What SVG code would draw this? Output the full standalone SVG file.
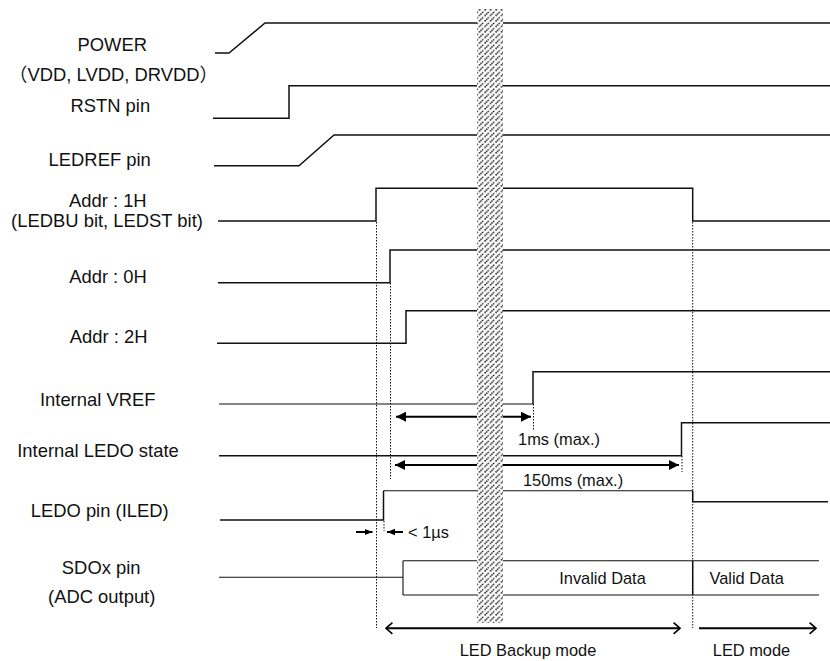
<svg xmlns="http://www.w3.org/2000/svg" width="830" height="661" viewBox="0 0 830 661">
<style>
.bg{fill:#fff}
.sig{fill:none;stroke:#111;stroke-width:1.5}
.thin{fill:none;stroke:#111;stroke-width:1.1}
.dot{fill:none;stroke:#111;stroke-width:1;stroke-dasharray:1.5 1.5}
.dim{fill:none;stroke:#000;stroke-width:2}
.lbl{font-family:"Liberation Sans",Arial,"Noto Sans CJK JP",sans-serif;font-size:18.4px;fill:#111;text-anchor:middle}
.ann{font-family:"Liberation Sans",Arial,sans-serif;font-size:16.4px;fill:#111;text-anchor:middle}
</style>
<defs>
<pattern id="hatch" patternUnits="userSpaceOnUse" width="5.5" height="5.5">
<rect width="5.5" height="5.5" fill="#fff"/>
<path d="M-1,6.5 L6.5,-1" stroke="#000" stroke-width="1.4" stroke-dasharray="1.4 0.8"/>
</pattern>
<marker id="fa" viewBox="0 0 10 10" refX="10" refY="5" markerWidth="5" markerHeight="5" orient="auto-start-reverse" markerUnits="strokeWidth">
<path d="M0,0 L10,5 L0,10 Z" fill="#000"/>
</marker>
<marker id="fs" viewBox="0 0 10 10" refX="10" refY="5" markerWidth="8" markerHeight="8" orient="auto-start-reverse" markerUnits="userSpaceOnUse">
<path d="M0,1 L10,5 L0,9 Z" fill="#000"/>
</marker>
<marker id="oa" viewBox="0 0 10 16" refX="9" refY="8" markerWidth="8" markerHeight="14" orient="auto-start-reverse" markerUnits="userSpaceOnUse">
<path d="M1,1 L9,8 L1,15" fill="none" stroke="#000" stroke-width="2"/>
</marker>
</defs>
<rect class="bg" width="830" height="661"/>

<g id="power">
<path class="sig" d="M215,53 H229 L265,23 H830"/>
<text class="lbl" x="112.3" y="50.5">POWER</text>
<text class="lbl" x="113.5" y="80.5">（VDD, LVDD, DRVDD）</text>
</g>
<g id="rstn">
<path class="sig" d="M213,118.3 H289 V85.7 H830"/>
<text class="lbl" x="110.3" y="112">RSTN pin</text>
</g>
<g id="ledref">
<path class="sig" d="M214,165.7 H299 L334,135 H830"/>
<text class="lbl" x="99.7" y="165.5">LEDREF pin</text>
</g>
<g id="addr1h">
<path class="sig" d="M218,221 H376 V188.3 H692.7 V221 H830"/>
<text class="lbl" x="107.8" y="207">Addr : 1H</text>
<text class="lbl" x="107" y="227">(LEDBU bit, LEDST bit)</text>
</g>
<g id="addr0h">
<path class="sig" d="M218,282.7 H390 V250 H830"/>
<text class="lbl" x="108" y="282.5">Addr : 0H</text>
</g>
<g id="addr2h">
<path class="sig" d="M217,343.3 H406 V310.7 H830"/>
<text class="lbl" x="108.7" y="343">Addr : 2H</text>
</g>
<g id="vref">
<path class="thin" d="M219,404 H533"/>
<path class="sig" d="M533,404 V371.7 H830"/>
<text class="lbl" x="97.7" y="406">Internal VREF</text>
</g>
<g id="ledostate">
<path class="sig" d="M219,455.7 H681.5 V422.7 H830"/>
<text class="lbl" x="98" y="457">Internal LEDO state</text>
</g>
<g id="ledopin">
<path class="sig" d="M220,520 H383.5 V490.7"/>
<path class="thin" d="M383.5,490.7 H692.7"/>
<path class="sig" d="M692.7,490.7 V501.7 H828"/>
<text class="lbl" x="99.7" y="517">LEDO pin (ILED)</text>
</g>
<g id="sdox">
<path class="thin" d="M219,577.3 H403"/>
<path class="thin" d="M403,560.7 V595 M403,560.7 H819 M403,595 H819"/>
<path class="sig" d="M692.7,560.7 V595"/>
<text class="lbl" x="101.2" y="574">SDOx pin</text>
<text class="lbl" x="101.7" y="603">(ADC output)</text>
<text class="ann" x="602.5" y="584">Invalid Data</text>
<text class="ann" x="746.7" y="584">Valid Data</text>
</g>

<g id="connectors">
<path class="dot" d="M376.5,222 V628"/>
<path class="dot" d="M390.5,283 V479"/>
<path class="dot" d="M692.7,222 V628"/>
<path class="dot" d="M533.5,404 V431"/>
<path class="dot" d="M682,456 V472"/>
<path class="dot" d="M384,521 V531"/>
<path class="dim" d="M396,416.7 H531" marker-start="url(#fa)" marker-end="url(#fa)"/>
<path class="dim" d="M395,465 H679" marker-start="url(#fa)" marker-end="url(#fa)"/>
<path class="dim" d="M356,532 H372.5" marker-end="url(#fs)"/>
<path class="dim" d="M403,532 H387" marker-end="url(#fs)"/>
<path class="dim" d="M386,628.3 H680" marker-start="url(#oa)" marker-end="url(#oa)"/>
<path class="dim" d="M699,628.3 H816" marker-end="url(#oa)"/>
<text class="ann" x="559" y="445">1ms (max.)</text>
<text class="ann" x="573" y="486">150ms (max.)</text>
<text class="ann" x="408" y="538" style="text-anchor:start">&lt; 1µs</text>
<text class="ann" x="528" y="656">LED Backup mode</text>
<text class="ann" x="751.5" y="656">LED mode</text>
</g>

<rect id="break" x="477" y="9" width="26" height="614" fill="url(#hatch)"/>
</svg>
